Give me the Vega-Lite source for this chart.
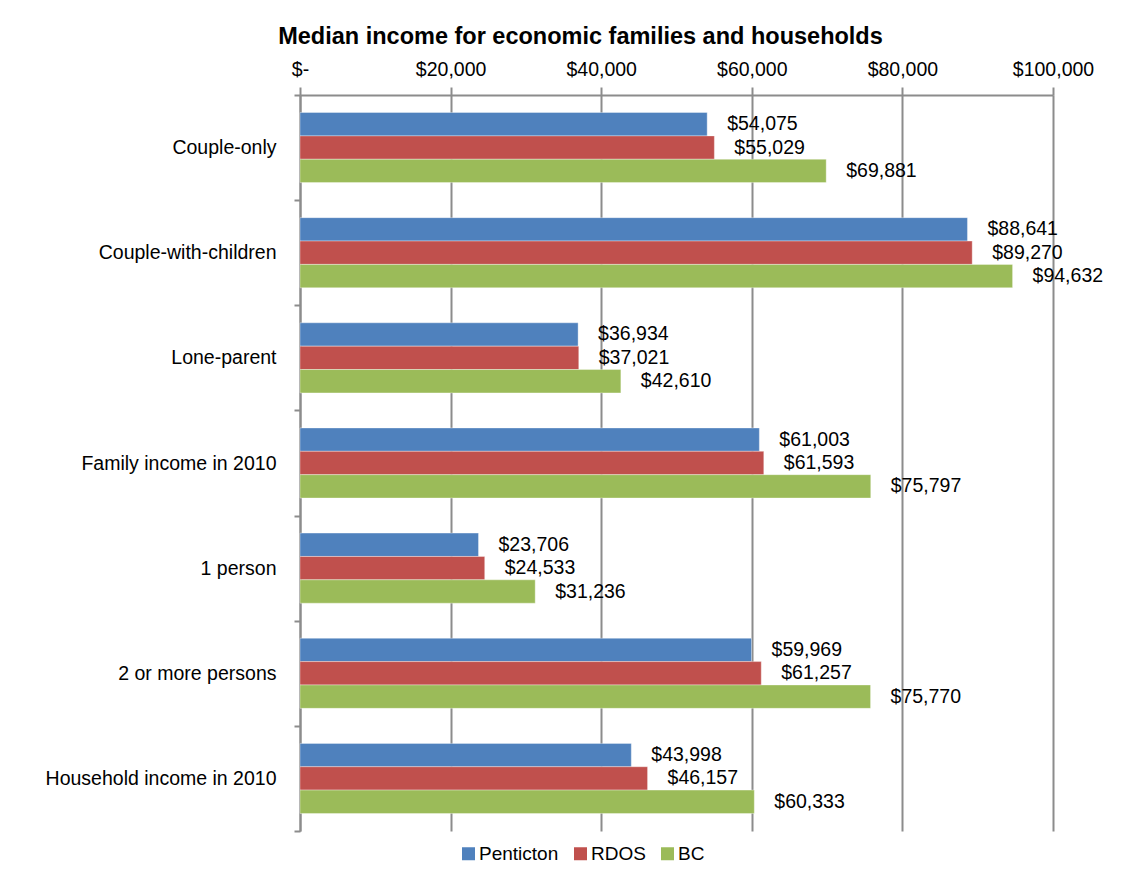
{
  "$schema": "https://vega.github.io/schema/vega-lite/v6.json",
  "autosize": "none",
  "width": 753,
  "height": 736,
  "padding": {"left": 300, "top": 95, "right": 95, "bottom": 52},
  "background": "white",
  "title": {
    "text": "Median income for economic families and households",
    "anchor": "middle",
    "frame": "group",
    "dx": -96,
    "offset": 11,
    "font": "Liberation Sans",
    "fontSize": 23.5,
    "fontWeight": "bold",
    "color": "#000000"
  },
  "data": {
    "values": [
      {"category": "Couple-only", "series": "Penticton", "value": 54075},
      {"category": "Couple-only", "series": "RDOS", "value": 55029},
      {"category": "Couple-only", "series": "BC", "value": 69881},
      {"category": "Couple-with-children", "series": "Penticton", "value": 88641},
      {"category": "Couple-with-children", "series": "RDOS", "value": 89270},
      {"category": "Couple-with-children", "series": "BC", "value": 94632},
      {"category": "Lone-parent", "series": "Penticton", "value": 36934},
      {"category": "Lone-parent", "series": "RDOS", "value": 37021},
      {"category": "Lone-parent", "series": "BC", "value": 42610},
      {"category": "Family income in 2010", "series": "Penticton", "value": 61003},
      {"category": "Family income in 2010", "series": "RDOS", "value": 61593},
      {"category": "Family income in 2010", "series": "BC", "value": 75797},
      {"category": "1 person", "series": "Penticton", "value": 23706},
      {"category": "1 person", "series": "RDOS", "value": 24533},
      {"category": "1 person", "series": "BC", "value": 31236},
      {"category": "2 or more persons", "series": "Penticton", "value": 59969},
      {"category": "2 or more persons", "series": "RDOS", "value": 61257},
      {"category": "2 or more persons", "series": "BC", "value": 75770},
      {"category": "Household income in 2010", "series": "Penticton", "value": 43998},
      {"category": "Household income in 2010", "series": "RDOS", "value": 46157},
      {"category": "Household income in 2010", "series": "BC", "value": 60333}
    ]
  },
  "encoding": {
    "y": {
      "field": "category",
      "type": "nominal",
      "sort": ["Couple-only", "Couple-with-children", "Lone-parent", "Family income in 2010", "1 person", "2 or more persons", "Household income in 2010"],
      "scale": {"paddingInner": 0, "paddingOuter": 0},
      "axis": {
        "title": null,
        "tickBand": "extent",
        "domainColor": "#8c8c8c",
        "domainWidth": 2,
        "tickColor": "#8c8c8c",
        "tickWidth": 2,
        "tickSize": 6,
        "labelPadding": 18,
        "labelLimit": 400,
        "labelFont": "Liberation Sans",
        "labelFontSize": 19.5,
        "labelColor": "#000000",
        "grid": false
      }
    },
    "yOffset": {
      "field": "series",
      "type": "nominal",
      "sort": ["Penticton", "RDOS", "BC"],
      "scale": {"paddingInner": 0, "paddingOuter": 0.75}
    },
    "x": {
      "field": "value",
      "type": "quantitative",
      "scale": {"domain": [0, 100000], "nice": false},
      "axis": {
        "title": null,
        "orient": "top",
        "values": [0, 20000, 40000, 60000, 80000, 100000],
        "labelExpr": "datum.value == 0 ? '$-' : format(datum.value, '$,.0f')",
        "labelFlush": false,
        "grid": true,
        "gridColor": "#8c8c8c",
        "gridWidth": 2,
        "domainColor": "#8c8c8c",
        "domainWidth": 2,
        "tickColor": "#8c8c8c",
        "tickWidth": 2,
        "tickSize": 8,
        "labelPadding": 8,
        "labelFont": "Liberation Sans",
        "labelFontSize": 19.5,
        "labelColor": "#000000"
      }
    }
  },
  "layer": [
    {
      "mark": {"type": "bar", "stroke": "#ffffff", "strokeWidth": 0.6, "strokeOpacity": 0.6},
      "encoding": {
        "color": {
          "field": "series",
          "type": "nominal",
          "sort": ["Penticton", "RDOS", "BC"],
          "scale": {"domain": ["Penticton", "RDOS", "BC"], "range": ["#4f81bd", "#c0504d", "#9bbb59"]},
          "legend": {
            "title": null,
            "orient": "none",
            "direction": "horizontal",
            "legendX": 159,
            "legendY": 749,
            "symbolType": "square",
            "symbolSize": 169,
            "symbolStrokeWidth": 0,
            "symbolOpacity": 1,
            "labelFont": "Liberation Sans",
            "labelFontSize": 19,
            "labelColor": "#000000",
            "labelOffset": 1,
            "columnPadding": 12
          }
        }
      }
    },
    {
      "mark": {
        "type": "text",
        "align": "left",
        "baseline": "middle",
        "dx": 20,
        "font": "Liberation Sans",
        "fontSize": 19.5,
        "color": "#000000"
      },
      "encoding": {
        "text": {"field": "value", "type": "quantitative", "format": "$,.0f"}
      }
    }
  ],
  "config": {
    "view": {"stroke": null}
  }
}
